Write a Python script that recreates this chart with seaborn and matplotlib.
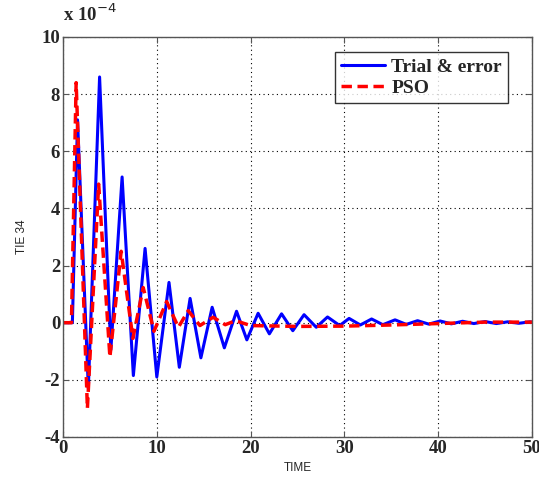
import matplotlib
matplotlib.use("Agg")
import matplotlib.pyplot as plt
import seaborn as sns
import pandas as pd

# Values in units of 1e-4
time_te = [0, 1.0, 1.55, 2.7, 3.9, 5.1, 6.3, 7.5, 8.75, 10.0, 11.3, 12.4, 13.55, 14.7,
           15.9, 17.2, 18.5, 19.6, 20.8, 22.0, 23.3, 24.5, 25.7, 27.0, 28.2, 29.5, 30.5,
           31.7, 32.9, 34.1, 35.4, 36.6, 37.8, 39.0, 40.2, 41.4, 42.6, 43.8, 45.0, 46.2,
           47.4, 48.6, 49.8, 50.0]
vals_te = [0, 0, 7.1, -2.3, 8.6, -0.95, 5.1, -1.85, 2.6, -1.9, 1.41, -1.56, 0.85, -1.23,
           0.54, -0.88, 0.4, -0.6, 0.33, -0.39, 0.31, -0.28, 0.28, -0.16, 0.2, -0.1, 0.15,
           -0.08, 0.13, -0.07, 0.1, -0.06, 0.07, -0.05, 0.06, -0.04, 0.05, -0.03, 0.04, -0.03,
           0.03, -0.02, 0.03, 0.02]

time_pso = [0, 0.9, 1.4, 2.6, 3.8, 5.0, 6.2, 7.45, 8.55, 9.7, 11.05, 12.3, 13.35, 14.6,
            16.0, 17.3, 18.4, 20.0, 25.0, 30.0, 35.0, 40.0, 45.0, 50.0]
vals_pso = [0, 0, 8.4, -3.0, 4.85, -1.2, 2.5, -0.55, 1.23, -0.3, 0.74, -0.16, 0.42, -0.1,
            0.19, -0.07, 0.07, -0.1, -0.13, -0.12, -0.08, -0.03, 0.02, 0.02]

series_names = ["Trial & error", "PSO"]
x_ticks = [0, 10, 20, 30, 40, 50]
y_ticks = [-4, -2, 0, 2, 4, 6, 8, 10]

df = pd.concat([
    pd.DataFrame({"TIME": time_te, "TIE": vals_te, "series": series_names[0]}),
    pd.DataFrame({"TIME": time_pso, "TIE": vals_pso, "series": series_names[1]}),
])

sns.set_style("white")
fig = plt.figure(figsize=(5.39, 4.8), dpi=100)
ax = fig.add_axes([0.1169, 0.0896, 0.8701, 0.8334])

sns.lineplot(data=df, x="TIME", y="TIE", hue="series", style="series",
             palette={"Trial & error": "#0000ff", "PSO": "#ff0000"},
             dashes={"Trial & error": "", "PSO": (3, 1.6)},
             sort=False, estimator=None, ax=ax, legend=False)
lines = ax.get_lines()
lines[0].set_linewidth(2.2)
lines[1].set_linewidth(2.5)
for ln in lines:
    ln.set_solid_joinstyle("round")
    ln.set_dash_joinstyle("round")

ax.set_xlim(0, 50)
ax.set_ylim(-4, 10)
ax.set_xticks(x_ticks)
ax.set_yticks(y_ticks)
serif = {"family": "Liberation Serif", "weight": "bold", "size": 13.5}
ax.set_xticklabels([str(t) for t in x_ticks], fontdict=serif)
ax.set_yticklabels([str(t) for t in y_ticks], fontdict=serif)
ax.tick_params(direction="in", length=4, top=True, right=True, bottom=True, left=True,
               color="#555555", pad=2)
ax.grid(True, linestyle=(0, (1, 3)), color="black", linewidth=0.8)
for sp in ax.spines.values():
    sp.set_color("#555555")
    sp.set_linewidth(1.0)

ax.set_xlabel("TIME", fontfamily="Liberation Sans", fontsize=8.5, labelpad=4)
ax.set_ylabel("TIE 34", fontfamily="Liberation Sans", fontsize=8.5, labelpad=10)

fig.text(0.117, 0.948, r"x 10$^{-4}$", fontfamily="Liberation Serif", fontweight="bold",
         fontsize=13.5, ha="left", va="bottom")

leg = ax.legend(lines, series_names, loc="upper right", bbox_to_anchor=(0.948, 0.962),
                prop={"family": "Liberation Serif", "weight": "bold", "size": 14},
                frameon=True, fancybox=False, edgecolor="black", handlelength=2.3,
                handletextpad=0.3, borderpad=0.3, labelspacing=0.2, borderaxespad=0)
leg.get_frame().set_linewidth(1.0)

fig.savefig("out.png", dpi=100, facecolor="white")
